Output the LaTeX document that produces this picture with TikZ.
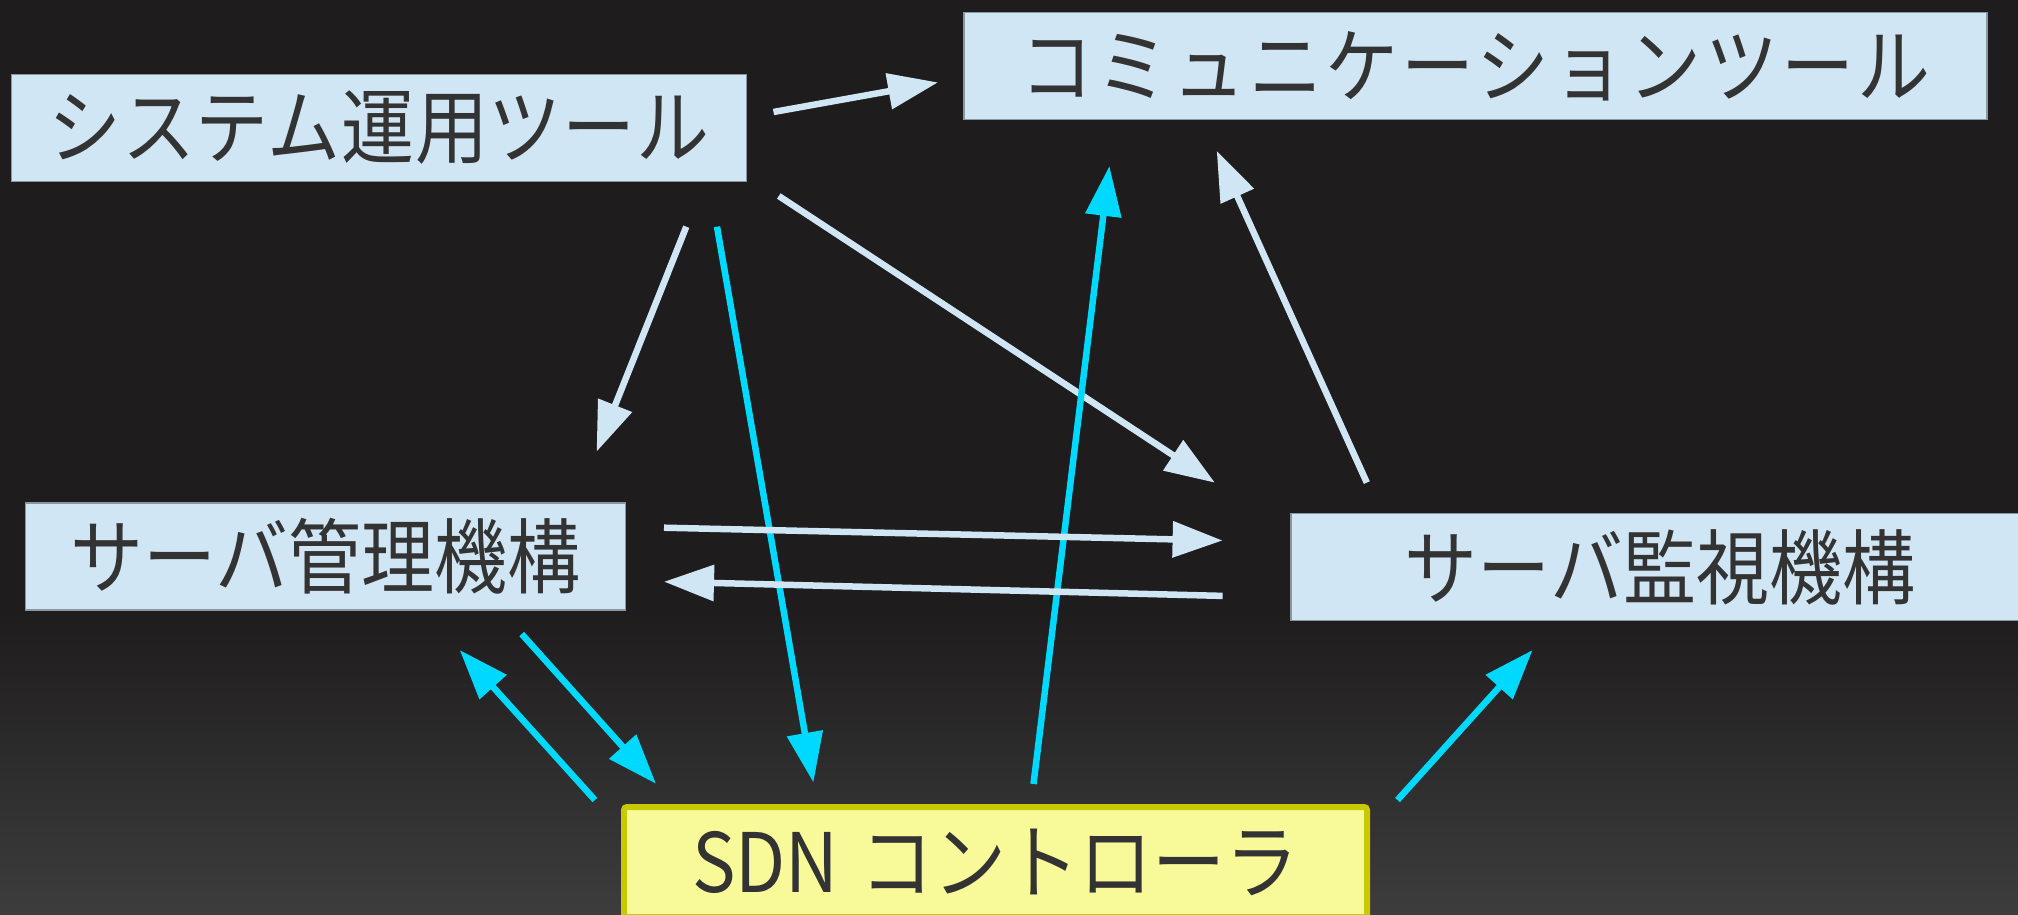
\documentclass[tikz,border=0pt]{standalone}
\usepackage{fontspec}
\setmainfont{Noto Sans CJK JP}[FakeStretch=0.89]
\usetikzlibrary{arrows.meta}
\definecolor{bgtop}{HTML}{1E1C1D}
\definecolor{bgbot}{HTML}{3D3D3D}
\definecolor{boxfill}{HTML}{D0E6F4}
\definecolor{boxline}{HTML}{8A979F}
\definecolor{txt}{HTML}{333333}
\definecolor{pale}{HTML}{D0E6F4}
\definecolor{cyanarr}{HTML}{00D9FF}
\definecolor{sdnfill}{HTML}{F8FA9A}
\definecolor{sdnline}{HTML}{C9C900}
\begin{document}
\begin{tikzpicture}[x=1pt,y=-1pt,
  tool/.style={draw=boxline, line width=1.5pt, fill=boxfill, text=txt,
    font=\fontsize{82}{90}\selectfont, inner sep=0pt, minimum height=107pt},
  ctrl/.style={draw=sdnline, line width=6pt, fill=sdnfill, rounded corners=3pt, text=txt,
    font=\fontsize{82}{90}\selectfont, inner sep=0pt, minimum height=110pt, minimum width=743pt},
  palearrow/.style={draw=pale, line width=6.5pt, -{Triangle[length=50pt,width=35pt]}},
  cyanarrow/.style={draw=cyanarr, line width=6.5pt, -{Triangle[length=50pt,width=35pt]}}
]
\useasboundingbox (0,0) rectangle (2018,915);
\clip (0,0) rectangle (2018,915);
\fill[bgtop] (0,0) rectangle (2018,915);
\shade[top color=bgtop, bottom color=bgbot] (0,610) rectangle (2018,916);

\node[tool, minimum width=735pt] (sys) at (379,128) {\addfontfeature{LetterSpace=1}システム運用ツール};
\node[tool, minimum width=1023pt] (comm) at (1475.5,66) {\addfontfeature{LetterSpace=4}コミュニケーションツール};
\node[tool, minimum width=600pt] (mgmt) at (325.6,556.5) {サーバ管理機構};
\node[tool, minimum width=738pt] (mon) at (1660,567) {サーバ監視機構};
\node[ctrl] (sdn) at (995.5,862) {SDN\hspace{6pt} コントローラ};

% connector end points
\coordinate (a1s) at (773.5,112);   \coordinate (a1e) at (938,82.4);
\coordinate (a2s) at (686.3,226.7); \coordinate (a2e) at (596.6,451.7);
\coordinate (a3s) at (717,226.7);   \coordinate (a3e) at (813.4,782.5);
\coordinate (a4s) at (778.8,196);   \coordinate (a4e) at (1214.9,482.7);
\coordinate (a5s) at (1033.5,784);  \coordinate (a5e) at (1109.4,166);
\coordinate (a6s) at (1366.8,482.6);\coordinate (a6e) at (1216.7,150.7);
\coordinate (a7s) at (664,527.7);   \coordinate (a7e) at (1222.6,540.5);
\coordinate (a8s) at (1222.6,595.9);\coordinate (a8e) at (664,581.7);
\coordinate (a9s) at (594.9,800);   \coordinate (a9e) at (459.7,650);
\coordinate (a10s) at (521.7,634);  \coordinate (a10e) at (656,783.8);
\coordinate (a11s) at (1397.5,800); \coordinate (a11e) at (1532.6,650);

\draw[palearrow] (a1s) -- (a1e);
\draw[palearrow] (a2s) -- (a2e);
\draw[cyanarrow] (a3s) -- (a3e);
\draw[palearrow] (a4s) -- (a4e);
\draw[cyanarrow] (a5s) -- (a5e);
\draw[palearrow] (a6s) -- (a6e);
\draw[palearrow] (a7s) -- (a7e);
\draw[palearrow] (a8s) -- (a8e);
\draw[cyanarrow] (a9s) -- (a9e);
\draw[cyanarrow] (a10s) -- (a10e);
\draw[cyanarrow] (a11s) -- (a11e);
\end{tikzpicture}
\end{document}
